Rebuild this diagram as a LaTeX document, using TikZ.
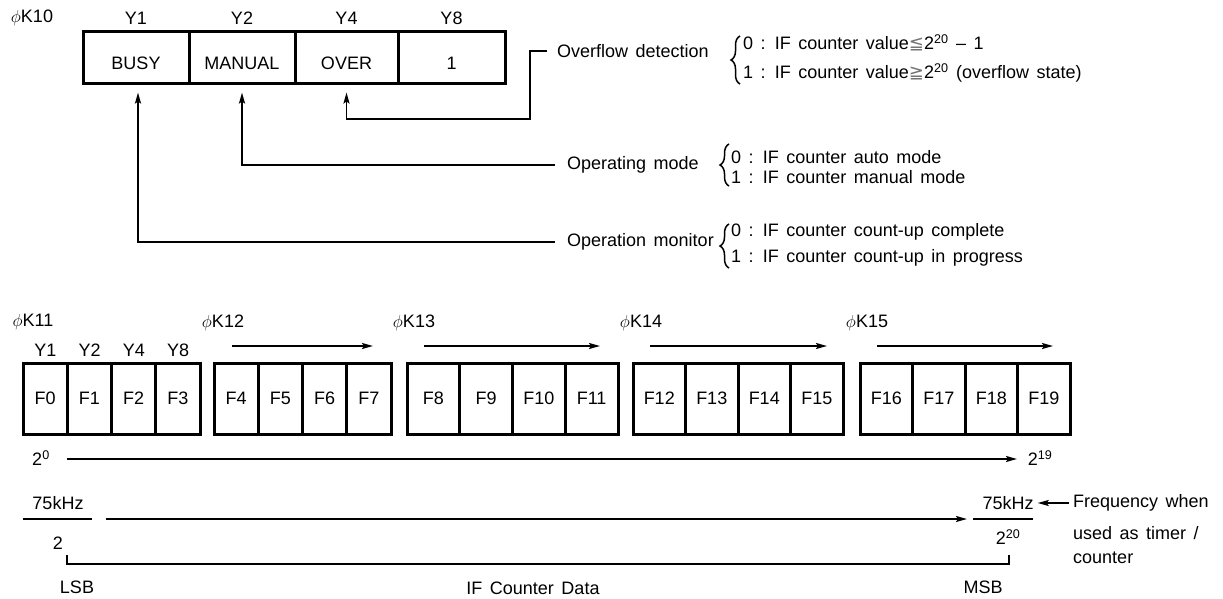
\documentclass[tikz,border=0pt]{standalone}
\usepackage{fontspec}
\setmainfont{Liberation Sans}[WordSpace=1.5]
\newfontfamily\symf{DejaVu Sans}
\usetikzlibrary{arrows.meta,decorations.pathreplacing}
\newcommand{\myleq}{{\color{black!55}\symf ≦}}
\newcommand{\mygeq}{{\color{black!55}\symf ≧}}
\begin{document}
\begin{tikzpicture}[x=1pt,y=-1pt,
  font=\fontsize{18}{21}\selectfont,
  cellbox/.style={draw,line width=3pt,inner sep=0pt,minimum height=71pt},
  topcell/.style={draw,line width=3pt,inner sep=0pt,minimum height=52pt},
  conn/.style={line width=1.8pt},
  tip/.style={-{Stealth[length=11pt,width=6pt,inset=2pt]}},
  bracestyle/.style={decorate,decoration={brace,amplitude=9pt,aspect=0.5},line width=1.5pt},
  lbl/.style={inner sep=0pt},
  wlbl/.style={inner sep=0pt,anchor=west},
]
\useasboundingbox (0,0) rectangle (1223,599);

% ---------- register K10 ----------
\node[lbl] (k10) at (32,18) {$\phi$K10};
\node[topcell,minimum width=106pt] (c10a) at (136,58) {};
\node[topcell,minimum width=106pt] (c10b) at (242,58) {};
\node[topcell,minimum width=103pt] (c10c) at (346.5,58) {};
\node[topcell,minimum width=107pt] (c10d) at (451.5,58) {};
\node[lbl] (ty1) at (136,18) {Y1};
\node[lbl] (ty2) at (242,18) {Y2};
\node[lbl] (ty4) at (346.5,18) {Y4};
\node[lbl] (ty8) at (451.5,18) {Y8};
\node[lbl] (tbusy) at (136,63) {BUSY};
\node[lbl] (tman) at (242,63) {MANUAL};
\node[lbl] (tover) at (346.5,63) {OVER};
\node[lbl] (tone) at (451.5,63) {1};

% ---------- descriptions ----------
\node[wlbl] (ovf) at (557,51) {Overflow detection};
\coordinate (ovfend) at (547,51);
\draw[conn,tip,shorten >=7pt] (ovfend) -- (530,51) -- (530,119) -| (c10c.south);
\draw[bracestyle] (740,84) -- (740,36);
\node[wlbl] (ov0) at (743,43) {0 : IF counter value\myleq2\textsuperscript{20} – 1};
\node[wlbl] (ov1) at (743,73) {1 : IF counter value\mygeq2\textsuperscript{20} (overflow state)};

\node[wlbl] (opm) at (567,165) {Operating mode};
\coordinate (opmend) at (555,165);
\draw[conn,tip,shorten >=7pt] (opmend) -| (c10b.south);
\draw[bracestyle] (729,186) -- (729,144);
\node[wlbl] (op0) at (731,157) {0 : IF counter auto mode};
\node[wlbl] (op1) at (731,177) {1 : IF counter manual mode};

\node[wlbl] (mon) at (567,242) {Operation monitor};
\coordinate (monend) at (555,242);
\draw[conn,tip,shorten >=7pt] (monend) -| ([xshift=2pt]c10a.south);
\draw[bracestyle] (729,268) -- (729,224);
\node[wlbl] (mo0) at (731,232) {0 : IF counter count-up complete};
\node[wlbl] (mo1) at (731,258) {1 : IF counter count-up in progress};

% ---------- registers K11..K15 ----------
\foreach \i in {0,...,3}
  \node[cellbox,minimum width=44.25pt] (f\i) at ({23+44.25*(\i+0.5)},398.5) {F\i};
\foreach \i in {4,...,7}
  \node[cellbox,minimum width=44.25pt] (f\i) at ({214+44.25*(\i-4+0.5)},398.5) {F\i};
\foreach \i in {8,...,11}
  \node[cellbox,minimum width=52.75pt] (f\i) at ({407+52.75*(\i-8+0.5)},398.5) {F\i};
\foreach \i in {12,...,15}
  \node[cellbox,minimum width=52.5pt] (f\i) at ({633+52.5*(\i-12+0.5)},398.5) {F\i};
\foreach \i in {16,...,19}
  \node[cellbox,minimum width=52.5pt] (f\i) at ({860+52.5*(\i-16+0.5)},398.5) {F\i};

\node[lbl] (k11) at (33,322) {$\phi$K11};
\node[lbl] (ly1) at (45.5,350) {Y1};
\node[lbl] (ly2) at (89.75,350) {Y2};
\node[lbl] (ly4) at (134,350) {Y4};
\node[lbl] (ly8) at (178.25,350) {Y8};

\node[lbl] (k12) at (223,323) {$\phi$K12};
\node[lbl] (k13) at (414,323) {$\phi$K13};
\node[lbl] (k14) at (641,323) {$\phi$K14};
\node[lbl] (k15) at (867,323) {$\phi$K15};
\coordinate (a12s) at (232,346); \coordinate (a12e) at (373,346);
\coordinate (a13s) at (424,346); \coordinate (a13e) at (600,346);
\coordinate (a14s) at (650,346); \coordinate (a14e) at (827,346);
\coordinate (a15s) at (877,346); \coordinate (a15e) at (1053,346);
\draw[conn,tip] (a12s) -- (a12e);
\draw[conn,tip] (a13s) -- (a13e);
\draw[conn,tip] (a14s) -- (a14e);
\draw[conn,tip] (a15s) -- (a15e);

% ---------- weights ----------
\node[lbl] (p0) at (41,458) {2\textsuperscript{0}};
\node[lbl] (p19) at (1040,458) {2\textsuperscript{19}};
\coordinate (w0) at (67,459); \coordinate (w19) at (1017,459);
\draw[conn,tip] (w0) -- (w19);

% ---------- frequencies ----------
\node[lbl] (fl) at (58,503) {75kHz};
\coordinate (fll) at (23,519); \coordinate (flr) at (92,519);
\draw[conn] (fll) -- (flr);
\node[lbl] (two) at (58,543) {2};
\coordinate (fas) at (106,519); \coordinate (fae) at (967,519);
\draw[conn,tip] (fas) -- (fae);
\node[lbl] (fr) at (1008,503) {75kHz};
\coordinate (frl) at (973,519); \coordinate (frr) at (1033,519);
\draw[conn] (frl) -- (frr);
\node[lbl] (p20) at (1008,537) {2\textsuperscript{20}};

\node[wlbl] (fq1) at (1073,503) {Frequency when};
\node[wlbl] (fq2) at (1073,533) {used as timer /};
\node[wlbl] (fq3) at (1073,558) {counter};
\draw[conn,tip,shorten <=4pt,shorten >=4pt] (fq1.west) -- (fr.east);

% ---------- bracket ----------
\coordinate (bl) at (67,555); \coordinate (br) at (1009,555);
\draw[conn] (bl) -- (67,564) -- (1009,564) -- (br);
\node[lbl] (lsb) at (77,587) {LSB};
\node[lbl] (msb) at (983,587) {MSB};
\node[lbl] (ifd) at (533,588) {IF Counter Data};
\end{tikzpicture}
\end{document}
